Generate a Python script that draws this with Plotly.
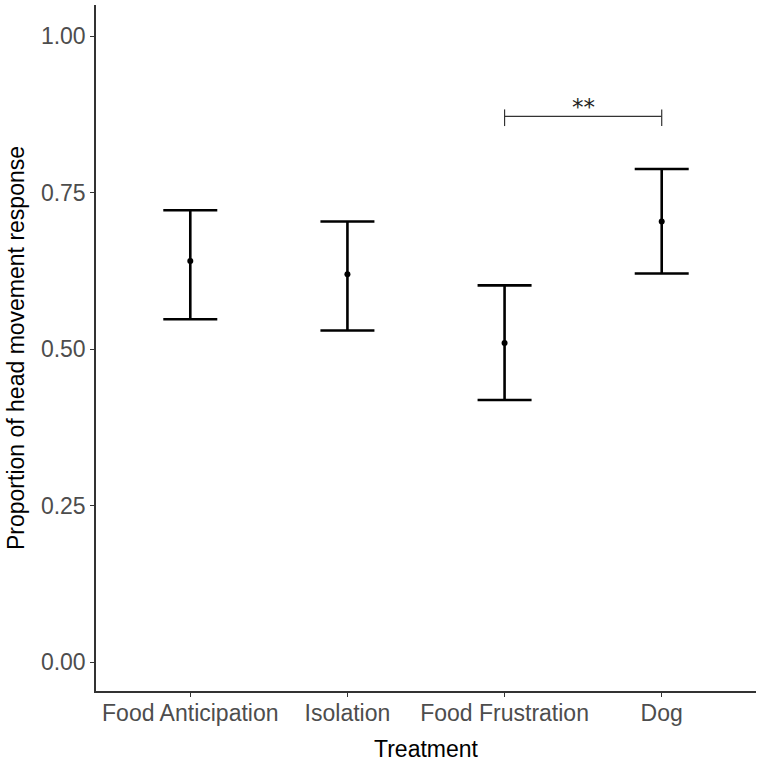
import plotly.graph_objects as go

treatments = ["Food Anticipation", "Isolation", "Food Frustration", "Dog"]
means = [0.641, 0.620, 0.510, 0.704]
upper = [0.722, 0.704, 0.602, 0.788]
lower = [0.548, 0.530, 0.419, 0.621]
y_ticks = [0.0, 0.25, 0.5, 0.75, 1.0]
y_tick_labels = ["0.00", "0.25", "0.50", "0.75", "1.00"]
sig_pair = ["Food Frustration", "Dog"]
sig_y = 0.872
sig_tick = 0.014
sig_label = "**"

err_plus = [u - m for u, m in zip(upper, means)]
err_minus = [m - l for m, l in zip(means, lower)]

fig = go.Figure()
fig.add_trace(go.Scatter(
    x=treatments, y=means, mode="markers",
    marker=dict(color="black", size=6),
    error_y=dict(type="data", symmetric=False, array=err_plus, arrayminus=err_minus,
                 color="black", thickness=2.6, width=27),
    showlegend=False, hoverinfo="skip",
))

line_col = "#333333"
fig.add_shape(type="line", xref="x", yref="y", x0=sig_pair[0], x1=sig_pair[1],
              y0=sig_y, y1=sig_y, line=dict(color=line_col, width=1.2))
for s in sig_pair:
    fig.add_shape(type="line", xref="x", yref="y", x0=s, x1=s,
                  y0=sig_y - sig_tick * 1.1, y1=sig_y + sig_tick * 0.8,
                  line=dict(color=line_col, width=1.2))
fig.add_annotation(x=2.5, y=sig_y, xref="x", yref="y", text=sig_label,
                   showarrow=False, yanchor="bottom", yshift=-6,
                   font=dict(family="DejaVu Sans", size=23, color="#222222"))

font_fam = "Liberation Sans, Arial, sans-serif"
fig.update_layout(
    width=760, height=764,
    margin=dict(l=96, r=4, t=5, b=73),
    plot_bgcolor="white", paper_bgcolor="white",
    font=dict(family=font_fam, size=23, color="black"),
    xaxis=dict(
        range=[-0.6, 3.6], showline=True, linecolor=line_col, linewidth=1.5,
        ticks="outside", ticklen=4, tickcolor=line_col, tickwidth=1.2,
        showgrid=False, zeroline=False, ticklabelstandoff=-3,
        tickfont=dict(family=font_fam, size=23, color="#4D4D4D"),
        title=dict(text="Treatment", font=dict(family=font_fam, size=23, color="black"), standoff=16),
    ),
    yaxis=dict(
        range=[-0.046, 1.05], showline=True, linecolor=line_col, linewidth=1.5,
        ticks="outside", ticklen=4, tickcolor=line_col, tickwidth=1.2,
        tickvals=y_ticks, ticktext=y_tick_labels,
        showgrid=False, zeroline=False,
        tickfont=dict(family=font_fam, size=23, color="#4D4D4D"),
        title=dict(text="Proportion of head movement response",
                   font=dict(family=font_fam, size=23, color="black"), standoff=10),
    ),
)

fig.write_html("out.html", config={"displayModeBar": False},
               post_script="document.body.style.margin='0';document.body.style.padding='0';")
